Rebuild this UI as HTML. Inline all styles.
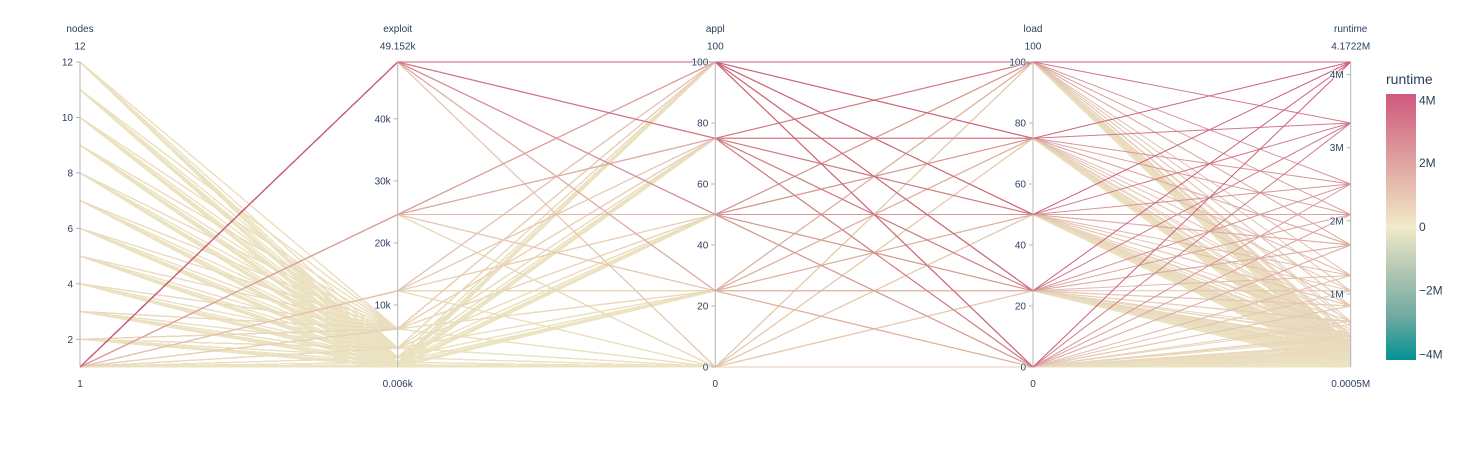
<!DOCTYPE html>
<html>
<head>
<meta charset="utf-8">
<style>
  html,body{margin:0;padding:0;background:#fff;}
  svg{display:block;}
  text{font-family:"Liberation Sans",sans-serif;fill:#2a3f5f;}
  .tk{font-size:10px;text-anchor:end;paint-order:stroke;stroke:#fff;stroke-width:1.6px;stroke-opacity:0.85;stroke-linejoin:round;}
  .ttl{font-size:10px;text-anchor:middle;}
  .ax{stroke:#b4b4b4;stroke-width:1;}
  .tm{stroke:#b4b4b4;stroke-width:1;}
  .cb{font-size:12px;}
</style>
</head>
<body>
<svg width="1463" height="450" viewBox="0 0 1463 450" xmlns="http://www.w3.org/2000/svg">
  <defs>
    <linearGradient id="cbg" x1="0" y1="0" x2="0" y2="1">
      <stop offset="0" stop-color="#d0587e"/>
      <stop offset="0.1667" stop-color="#d98994"/>
      <stop offset="0.3333" stop-color="#e5b9ad"/>
      <stop offset="0.5" stop-color="#f1eac8"/>
      <stop offset="0.6667" stop-color="#b1c7b3"/>
      <stop offset="0.8333" stop-color="#72aaa1"/>
      <stop offset="1" stop-color="#009392"/>
    </linearGradient>
  </defs>

  <g id="lines" fill="none" stroke-width="1"></g>

  <!-- axes -->
  <g>
    <line class="ax" x1="80" y1="62" x2="80" y2="367"/>
    <line class="ax" x1="397.7" y1="62" x2="397.7" y2="367"/>
    <line class="ax" x1="715.3" y1="62" x2="715.3" y2="367"/>
    <line class="ax" x1="1033" y1="62" x2="1033" y2="367"/>
    <line class="ax" x1="1350.7" y1="62" x2="1350.7" y2="367"/>
  </g>

  <!-- titles and range labels -->
  <g class="ttl">
    <text x="80" y="32">nodes</text>
    <text x="80" y="49.5">12</text>
    <text x="80" y="387">1</text>

    <text x="397.7" y="32">exploit</text>
    <text x="397.7" y="49.5">49.152k</text>
    <text x="397.7" y="387">0.006k</text>

    <text x="715.3" y="32">appl</text>
    <text x="715.3" y="49.5">100</text>
    <text x="715.3" y="387">0</text>

    <text x="1033" y="32">load</text>
    <text x="1033" y="49.5">100</text>
    <text x="1033" y="387">0</text>

    <text x="1350.7" y="32">runtime</text>
    <text x="1350.7" y="49.5">4.1722M</text>
    <text x="1350.7" y="387">0.0005M</text>
  </g>

  <!-- nodes ticks -->
  <g>
    <line class="tm" x1="76" y1="62" x2="80" y2="62"/><text class="tk" x="73" y="65.5">12</text>
    <line class="tm" x1="76" y1="117.5" x2="80" y2="117.5"/><text class="tk" x="73" y="121">10</text>
    <line class="tm" x1="76" y1="172.9" x2="80" y2="172.9"/><text class="tk" x="73" y="176.4">8</text>
    <line class="tm" x1="76" y1="228.4" x2="80" y2="228.4"/><text class="tk" x="73" y="231.9">6</text>
    <line class="tm" x1="76" y1="283.8" x2="80" y2="283.8"/><text class="tk" x="73" y="287.3">4</text>
    <line class="tm" x1="76" y1="339.3" x2="80" y2="339.3"/><text class="tk" x="73" y="342.8">2</text>
  </g>
  <!-- exploit ticks -->
  <g>
    <line class="tm" x1="393.7" y1="305" x2="397.7" y2="305"/><text class="tk" x="390.7" y="308.5">10k</text>
    <line class="tm" x1="393.7" y1="242.9" x2="397.7" y2="242.9"/><text class="tk" x="390.7" y="246.4">20k</text>
    <line class="tm" x1="393.7" y1="180.9" x2="397.7" y2="180.9"/><text class="tk" x="390.7" y="184.4">30k</text>
    <line class="tm" x1="393.7" y1="118.8" x2="397.7" y2="118.8"/><text class="tk" x="390.7" y="122.3">40k</text>
  </g>
  <!-- appl ticks -->
  <g>
    <line class="tm" x1="711.3" y1="367" x2="715.3" y2="367"/><text class="tk" x="708.3" y="370.5">0</text>
    <line class="tm" x1="711.3" y1="306" x2="715.3" y2="306"/><text class="tk" x="708.3" y="309.5">20</text>
    <line class="tm" x1="711.3" y1="245" x2="715.3" y2="245"/><text class="tk" x="708.3" y="248.5">40</text>
    <line class="tm" x1="711.3" y1="184" x2="715.3" y2="184"/><text class="tk" x="708.3" y="187.5">60</text>
    <line class="tm" x1="711.3" y1="123" x2="715.3" y2="123"/><text class="tk" x="708.3" y="126.5">80</text>
    <line class="tm" x1="711.3" y1="62" x2="715.3" y2="62"/><text class="tk" x="708.3" y="65.5">100</text>
  </g>
  <!-- load ticks -->
  <g>
    <line class="tm" x1="1029" y1="367" x2="1033" y2="367"/><text class="tk" x="1026" y="370.5">0</text>
    <line class="tm" x1="1029" y1="306" x2="1033" y2="306"/><text class="tk" x="1026" y="309.5">20</text>
    <line class="tm" x1="1029" y1="245" x2="1033" y2="245"/><text class="tk" x="1026" y="248.5">40</text>
    <line class="tm" x1="1029" y1="184" x2="1033" y2="184"/><text class="tk" x="1026" y="187.5">60</text>
    <line class="tm" x1="1029" y1="123" x2="1033" y2="123"/><text class="tk" x="1026" y="126.5">80</text>
    <line class="tm" x1="1029" y1="62" x2="1033" y2="62"/><text class="tk" x="1026" y="65.5">100</text>
  </g>
  <!-- runtime ticks -->
  <g>
    <line class="tm" x1="1346.7" y1="293.9" x2="1350.7" y2="293.9"/><text class="tk" x="1343.7" y="297.4">1M</text>
    <line class="tm" x1="1346.7" y1="220.8" x2="1350.7" y2="220.8"/><text class="tk" x="1343.7" y="224.3">2M</text>
    <line class="tm" x1="1346.7" y1="147.7" x2="1350.7" y2="147.7"/><text class="tk" x="1343.7" y="151.2">3M</text>
    <line class="tm" x1="1346.7" y1="74.6" x2="1350.7" y2="74.6"/><text class="tk" x="1343.7" y="78.1">4M</text>
  </g>

  <!-- colorbar -->
  <text x="1386" y="84" style="font-size:14px;">runtime</text>
  <rect x="1386" y="94" width="30" height="266" fill="url(#cbg)"/>
  <text class="cb" x="1419" y="104.5">4M</text>
  <text class="cb" x="1419" y="167">2M</text>
  <text class="cb" x="1419" y="231">0</text>
  <text class="cb" x="1419" y="294.5">−2M</text>
  <text class="cb" x="1419" y="358.5">−4M</text>
</svg>

<script>
(function(){
  var X=[80,397.7,715.3,1033,1350.7];
  var B=367,H=305;
  function yv(v,mn,mx){return B-(v-mn)/(mx-mn)*H;}
  var stops=[[0,147,146],[114,170,161],[177,199,179],[241,234,200],[229,185,173],[217,137,148],[208,88,126]];
  function col(r){
    var t=(r+4172200)/8344400; t=Math.max(0,Math.min(1,t))*6;
    var i=Math.min(5,Math.floor(t)),f=t-i,a=stops[i],b=stops[i+1];
    var c=[a[0]+(b[0]-a[0])*f,a[1]+(b[1]-a[1])*f,a[2]+(b[2]-a[2])*f];
    var g=[170,160,135],m=0.08;
    return 'rgb('+Math.round(c[0]*(1-m)+g[0]*m)+','+Math.round(c[1]*(1-m)+g[1]*m)+','+Math.round(c[2]*(1-m)+g[2]*m)+')';
  }
  var C=4171700/49152;
  var AL=[0,25,50,75,100];
  var data=[];
  for(var n=1;n<=12;n++){
    var kmax=(n===1)?13:10;
    for(var k=0;k<=kmax;k++){
      var e=6*Math.pow(2,k);
      for(var ai=0;ai<5;ai++){
        var a=AL[ai];
        for(var li=0;li<5;li++){
          var l=AL[li];
          var fa=0.2+0.8*a/100;
          var r;
          if(n===1 && k>=11){
            r=500+e*C*fa;
          } else {
            var lf=1+0.06*((li+ai+k)%4);
            r=500+e*C*fa*lf/Math.pow(n,0.6);
          }
          if(r>4172200) r=4172200;
          data.push([n,e,a,l,r]);
        }
      }
    }
  }
  data.sort(function(p,q){return p[4]-q[4];});
  var out=[];
  for(var i=0;i<data.length;i++){
    var d=data[i];
    var ys=[yv(d[0],1,12),yv(d[1],6,49152),yv(d[2],0,100),yv(d[3],0,100),yv(d[4],500,4172200)];
    var pts='';
    for(var j=0;j<5;j++){pts+=X[j]+','+ys[j].toFixed(1)+' ';}
    out.push('<polyline points="'+pts+'" stroke="'+col(d[4])+'"/>');
  }
  document.getElementById('lines').innerHTML=out.join('');
})();
</script>
</body>
</html>
